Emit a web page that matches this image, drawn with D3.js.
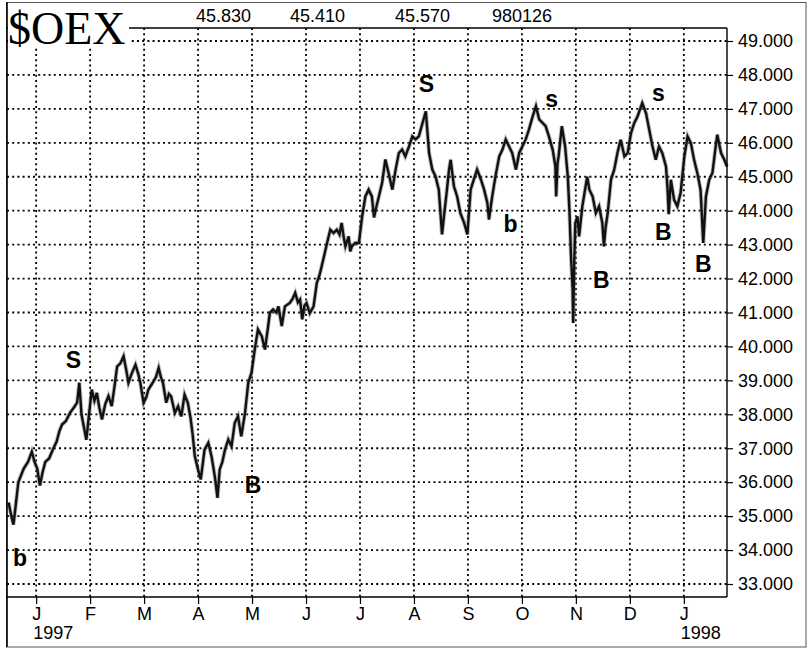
<!DOCTYPE html>
<html><head><meta charset="utf-8">
<script src="https://cdn.jsdelivr.net/npm/d3@7"></script>
<style>body{margin:0;background:#fff} svg{display:block}</style>
</head><body>
<svg id="chart" width="808" height="650"></svg>
<script>
// ---- data ----
const monthLabels = ["J","F","M","A","M","J","J","A","S","O","N","D","J"];
const monthPositions = [0,1,2,3,4,5,6,7,8,9,10,11,12]; // months since Jan 1997
const yearLabels = ["1997","1998"];
const yearPositions = [0,12];
const priceTicks = [33,34,35,36,37,38,39,40,41,42,43,44,45,46,47,48,49];
const headerValues = ["45.830","45.410","45.570","980126"];
// time in months since 1 Jan 1997
const pos = [-0.51,-0.46,-0.42,-0.38,-0.33,-0.28,-0.23,-0.15,-0.08,-0.03,0.02,0.07,0.12,0.17,0.24,0.32,0.38,0.43,0.48,0.55,0.63,0.7,0.76,0.8,0.84,0.88,0.93,0.98,1.03,1.08,1.125,1.17,1.22,1.28,1.34,1.4,1.45,1.5,1.56,1.62,1.67,1.71,1.77,1.84,1.89,1.93,1.99,2.04,2.08,2.16,2.22,2.27,2.31,2.35,2.41,2.46,2.5,2.57,2.63,2.69,2.75,2.81,2.86,2.9,2.94,3.0,3.05,3.12,3.19,3.25,3.31,3.36,3.4,3.45,3.5,3.56,3.62,3.68,3.74,3.8,3.87,3.93,3.99,4.05,4.11,4.18,4.24,4.29,4.33,4.39,4.45,4.49,4.55,4.61,4.7,4.75,4.8,4.85,4.89,4.93,4.97,5.01,5.07,5.14,5.2,5.25,5.29,5.34,5.39,5.45,5.51,5.57,5.62,5.66,5.7,5.73,5.79,5.82,5.85,5.91,5.98,6.04,6.1,6.16,6.22,6.26,6.29,6.35,6.41,6.47,6.53,6.6,6.66,6.72,6.78,6.84,6.91,6.97,7.03,7.09,7.16,7.22,7.28,7.34,7.4,7.46,7.52,7.56,7.61,7.65,7.68,7.74,7.8,7.86,7.93,7.99,8.05,8.11,8.17,8.24,8.3,8.36,8.39,8.45,8.51,8.58,8.64,8.7,8.76,8.82,8.89,8.95,9.01,9.07,9.13,9.2,9.26,9.32,9.38,9.44,9.5,9.57,9.62,9.635,9.66,9.68,9.74,9.8,9.85,9.88,9.91,9.94,9.95,9.97,9.99,10.03,10.06,10.09,10.12,10.17,10.21,10.25,10.31,10.37,10.43,10.49,10.52,10.55,10.59,10.65,10.71,10.77,10.83,10.9,10.96,11.02,11.08,11.14,11.23,11.3,11.36,11.42,11.48,11.54,11.6,11.67,11.7,11.72,11.76,11.82,11.88,11.94,12.01,12.07,12.13,12.19,12.25,12.31,12.36,12.41,12.47,12.53,12.59,12.62,12.69,12.75,12.8];
const price = [35.4,35.0,34.75,35.3,36.0,36.2,36.4,36.6,36.9,36.6,36.4,35.9,36.3,36.6,36.7,37.0,37.2,37.5,37.7,37.8,38.05,38.2,38.35,38.93,38.0,37.66,37.25,38.0,38.73,38.4,38.63,38.2,37.85,38.3,38.54,38.24,38.8,39.41,39.5,39.71,39.3,38.93,39.2,39.46,39.2,38.93,38.34,38.5,38.73,38.93,39.1,39.37,39.1,38.93,38.34,38.6,38.53,38.04,38.24,37.94,38.58,38.34,37.9,37.4,36.76,36.37,36.08,36.96,37.16,36.76,36.17,35.54,36.37,36.6,36.96,37.26,37.06,37.75,37.94,37.35,38.04,38.93,39.22,39.91,40.5,40.3,39.91,40.5,40.99,41.09,41.0,41.18,40.6,41.18,41.28,41.4,41.58,41.3,41.38,40.8,41.2,41.28,40.98,41.18,41.87,42.1,42.36,42.7,43.05,43.44,43.34,43.44,43.3,43.64,43.2,42.95,43.24,42.8,42.95,43.05,43.05,43.83,44.42,44.62,44.42,43.8,44.03,44.42,44.82,45.51,45.11,44.62,45.21,45.7,45.8,45.6,45.9,46.19,46.1,46.19,46.59,46.93,45.7,45.21,45.01,44.62,43.3,43.9,44.6,45.21,45.5,44.72,44.42,43.93,43.64,43.3,44.62,44.92,45.21,44.92,44.62,44.23,43.74,44.42,45.01,45.6,45.8,46.1,45.9,45.7,45.21,45.7,45.9,46.1,46.39,46.78,47.08,46.69,46.59,46.49,46.19,45.8,45.31,44.42,45.4,45.6,46.49,45.9,45.01,44.03,42.65,41.67,40.69,42.5,43.64,43.83,43.24,43.7,44.13,44.62,45.0,44.62,44.42,43.93,44.13,43.64,42.95,43.5,43.93,44.91,45.21,45.7,46.09,45.6,45.7,46.28,46.58,46.77,47.17,46.87,46.38,45.89,45.5,45.89,45.7,45.3,44.6,43.9,44.91,44.32,44.13,44.52,45.6,46.19,46.0,45.5,45.11,44.62,43.05,44.42,44.91,45.11,45.89,46.24,45.7,45.5,45.3];
// signal annotations (month position, price level)
const signalText = ["b","S","B","S","b","s","B","s","B","B"];
const signalPos = [-0.30,0.69,4.02,7.23,8.79,9.55,10.47,11.53,11.62,12.36];
const signalLevel = [33.53,39.37,35.68,47.50,43.37,47.06,41.72,47.23,43.14,42.19];

// ---- layout ----
const L = 7, R = 727, T = 28, B = 597;
const svg = d3.select("#chart");
const x = d3.scaleLinear().domain([-0.54, 12.80]).range([L, R]);
const y = d3.scaleLinear().domain([33, 49]).range([584, 41]);
const font = "'Liberation Sans', Arial, Helvetica, sans-serif";

// outer border
svg.append("rect").attr("x",6.5).attr("y",2.5).attr("width",799.5).attr("height",644.5)
  .attr("fill","#fff").attr("stroke","#555").attr("stroke-width",1);

// grid
const grid = svg.append("g");
grid.selectAll("line.h").data(priceTicks).join("line")
  .attr("x1",L).attr("x2",R).attr("y1",d=>y(d)).attr("y2",d=>y(d))
  .attr("stroke","#000").attr("stroke-width",1.8).attr("stroke-dasharray","2,3.2");
grid.selectAll("line.v").data(monthPositions).join("line")
  .attr("y1",T).attr("y2",B).attr("x1",d=>x(d)).attr("x2",d=>x(d))
  .attr("stroke","#000").attr("stroke-width",1.8).attr("stroke-dasharray","2,3.2");

// price line
const line = d3.line().x((d,i)=>x(pos[i])).y(d=>y(d));
svg.append("path").datum(price).attr("d",line)
  .attr("fill","none").attr("stroke","#777").attr("stroke-width",4.2).attr("stroke-linejoin","miter").attr("opacity",0.5);
svg.append("path").datum(price).attr("d",line)
  .attr("fill","none").attr("stroke","#111").attr("stroke-width",2.4).attr("stroke-linejoin","miter");

// frame
svg.append("line").attr("x1",L).attr("x2",R).attr("y1",B).attr("y2",B).attr("stroke","#000").attr("stroke-width",1.4);
svg.append("line").attr("x1",R).attr("x2",R).attr("y1",T).attr("y2",B).attr("stroke","#000").attr("stroke-width",1.4);
svg.append("line").attr("x1",L).attr("x2",L).attr("y1",2).attr("y2",647).attr("stroke","#000").attr("stroke-width",1.6);
svg.append("line").attr("x1",L).attr("x2",R).attr("y1",T).attr("y2",T).attr("stroke","#000").attr("stroke-width",1.4);

// right axis
const yAxis = svg.append("g").attr("transform",`translate(${R},0)`)
  .call(d3.axisRight(y).tickValues(priceTicks).tickFormat(d3.format(".3f")).tickSize(6).tickPadding(5));
yAxis.select(".domain").remove();
yAxis.selectAll("line").attr("stroke","#000").attr("stroke-width",1.2);
yAxis.selectAll("text").attr("font-family",font).attr("font-size",18).attr("fill","#000");

// bottom axis
const xAxis = svg.append("g").attr("transform",`translate(0,${B})`)
  .call(d3.axisBottom(x).tickValues(monthPositions).tickFormat((d,i)=>monthLabels[i]).tickSize(7).tickPadding(3));
xAxis.select(".domain").remove();
xAxis.selectAll("line").attr("stroke","#000").attr("stroke-width",1.2);
xAxis.selectAll("text").attr("font-family",font).attr("font-size",18).attr("fill","#000");
svg.append("g").selectAll("text").data(yearLabels).join("text")
  .attr("x",(d,i)=>x(yearPositions[i]) - 3).attr("y",639)
  .attr("font-family",font).attr("font-size",18).attr("fill","#000").text(d=>d);

// title box
svg.append("rect").attr("x",L+1).attr("y",3).attr("width",121).attr("height",44).attr("fill","#fff");
svg.append("text").attr("x",8).attr("y",44).attr("font-family","'Liberation Serif','Times New Roman',serif")
  .attr("font-size",46).attr("fill","#000").text("$OEX");
// header values
const headerX = [196,290,395,492];
svg.append("g").selectAll("text").data(headerValues).join("text")
  .attr("x",(d,i)=>headerX[i]).attr("y",22).attr("font-family",font).attr("font-size",18).attr("fill","#000").text(d=>d);

// signals
svg.append("g").selectAll("text").data(signalText).join("text")
  .attr("x",(d,i)=>x(signalPos[i])).attr("y",(d,i)=>y(signalLevel[i]))
  .attr("text-anchor","middle").attr("font-family",font).attr("font-weight","bold")
  .attr("font-size",23).attr("fill","#000").text(d=>d);
</script>
</body></html>
